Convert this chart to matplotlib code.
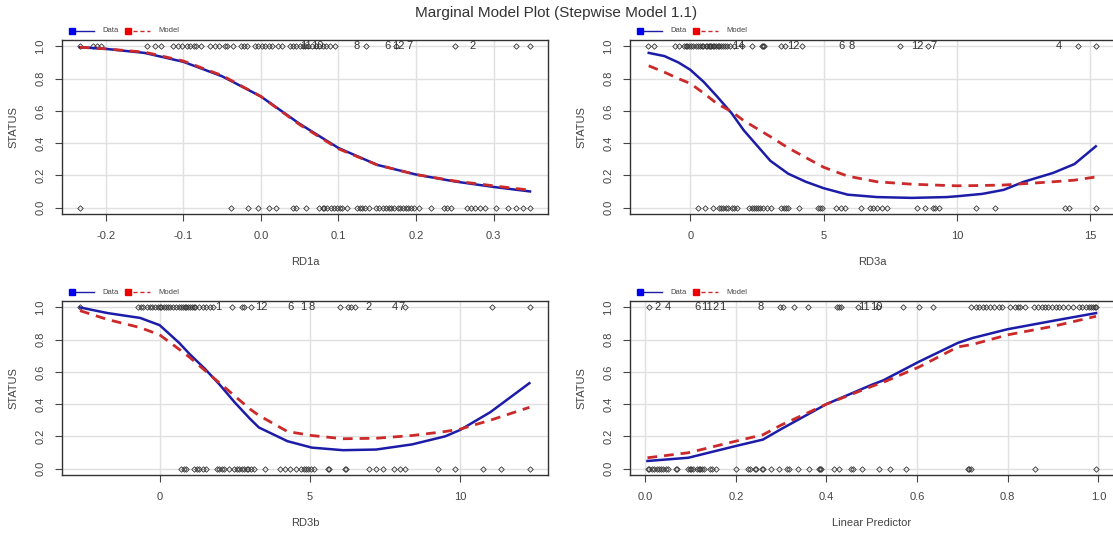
import numpy as np
import matplotlib.pyplot as plt
from matplotlib.lines import Line2D

plt.rcParams['font.family'] = ['Liberation Sans', 'DejaVu Sans']

# ---- data ----

# RD1a panel
rd1a_one = [-0.233, -0.216, -0.211, -0.206, -0.147, -0.136, -0.128, -0.113, -0.107, -0.101,
            -0.095, -0.091, -0.086, -0.084, -0.077, -0.065, -0.059, -0.054, -0.046, -0.044,
            -0.036, -0.026, -0.022, -0.018, -0.008, -0.004, 0.001, 0.006, 0.011, 0.015,
            0.022, 0.027, 0.038, 0.042, 0.045, 0.050, 0.054, 0.057, 0.061, 0.066,
            0.071, 0.075, 0.080, 0.084, 0.089, 0.096, 0.135, 0.174, 0.250, 0.329, 0.347]
rd1a_zero = [-0.233, -0.039, -0.017, -0.004, 0.010, 0.020, 0.041, 0.045, 0.058, 0.075,
             0.080, 0.082, 0.085, 0.091, 0.094, 0.098, 0.102, 0.105, 0.111, 0.124,
             0.128, 0.130, 0.134, 0.140, 0.149, 0.153, 0.158, 0.162, 0.165, 0.168,
             0.172, 0.177, 0.180, 0.183, 0.187, 0.190, 0.194, 0.197, 0.204, 0.220,
             0.236, 0.240, 0.245, 0.266, 0.271, 0.276, 0.283, 0.289, 0.303, 0.319,
             0.329, 0.338, 0.347]
rd1a_ids = [('11', 0.058), ('10', 0.073), ('8', 0.123), ('6', 0.163), ('12', 0.177),
            ('7', 0.192), ('2', 0.273)]
rd1a_x = [-0.233, -0.2, -0.15, -0.1, -0.05, 0.0, 0.05, 0.1, 0.15, 0.2, 0.25, 0.3, 0.347]
rd1a_data = [0.995, 0.985, 0.96, 0.905, 0.815, 0.69, 0.52, 0.37, 0.265, 0.205, 0.162, 0.128, 0.10]
rd1a_model = [0.995, 0.985, 0.965, 0.91, 0.82, 0.69, 0.515, 0.365, 0.265, 0.205, 0.165, 0.135, 0.108]

# RD3a panel
rd3a_one = [-1.59, -1.37, -0.57, -0.44, -0.24, -0.17, -0.11, -0.04, 0.03, 0.09,
            0.23, 0.29, 0.36, 0.42, 0.49, 0.60, 0.62, 0.69, 0.73, 0.78,
            0.84, 0.89, 0.95, 1.02, 1.09, 1.15, 1.22, 1.29, 1.39, 1.49,
            1.62, 1.95, 2.32, 2.68, 2.72, 2.75, 3.41, 3.54, 4.20, 7.85, 8.91, 14.52, 15.21]
rd3a_zero = [0.27, 0.56, 0.85, 1.09, 1.15, 1.22, 1.35, 1.42, 1.55, 1.64,
             1.75, 2.21, 2.31, 2.39, 2.48, 2.55, 2.61, 2.72, 2.88, 3.01,
             3.38, 3.51, 3.58, 3.67, 4.07, 4.80, 4.87, 4.93, 5.46, 5.66,
             5.80, 6.39, 6.75, 6.86, 6.99, 7.19, 7.39, 8.51, 8.78, 9.11,
             9.18, 9.31, 10.70, 11.43, 14.05, 14.18, 15.21]
rd3a_ids = [('14', 1.80), ('12', 3.85), ('6', 5.66), ('8', 6.06), ('12', 8.51),
            ('7', 9.11), ('4', 13.82)]
rd3a_x = [-1.56, -0.97, -0.44, 0.0, 0.5, 1.0, 1.55, 2.0, 2.5, 3.0, 3.67, 4.33, 5.0,
          5.9, 7.0, 8.3, 9.6, 10.0, 10.95, 11.75, 12.5, 13.6, 14.4, 15.2]
rd3a_data = [0.96, 0.94, 0.90, 0.855, 0.78, 0.69, 0.585, 0.48, 0.385, 0.29, 0.21, 0.16, 0.12,
             0.08, 0.065, 0.06, 0.065, 0.07, 0.085, 0.11, 0.16, 0.215, 0.27, 0.38]
rd3a_model = [0.88, 0.84, 0.80, 0.77, 0.71, 0.645, 0.595, 0.54, 0.49, 0.44, 0.37, 0.31, 0.25,
              0.195, 0.16, 0.145, 0.137, 0.135, 0.137, 0.14, 0.148, 0.16, 0.17, 0.19]

# RD3b panel
rd3b_one = [-2.65, -0.71, -0.63, -0.54, -0.42, -0.32, -0.24, -0.15, -0.06, 0.0,
            0.06, 0.13, 0.20, 0.27, 0.36, 0.44, 0.54, 0.63, 0.71, 0.77,
            0.83, 0.89, 0.95, 1.01, 1.07, 1.13, 1.19, 1.31, 1.43, 1.55,
            1.67, 1.79, 2.42, 2.74, 2.80, 3.04, 6.01, 6.25, 6.37, 6.49, 8.15, 11.07, 12.32]
rd3b_zero = [0.71, 0.80, 0.89, 1.13, 1.23, 1.31, 1.43, 1.55, 1.90, 1.99,
             2.06, 2.14, 2.32, 2.46, 2.56, 2.65, 2.74, 2.80, 2.89, 2.94,
             3.04, 3.13, 3.49, 3.99, 4.17, 4.35, 4.52, 4.70, 4.80, 4.88,
             4.94, 5.04, 5.12, 5.60, 5.63, 6.15, 6.19, 6.96, 7.20, 7.42,
             7.80, 7.98, 8.15, 9.25, 9.82, 10.77, 11.35, 12.32]
rd3b_ids = [('1', 1.95), ('12', 3.39), ('6', 4.35), ('1', 4.76), ('8', 5.06), ('2', 6.96),
            ('4', 7.82), ('7', 8.06)]
rd3b_x = [-2.65, -1.73, -0.65, 0.0, 0.65, 1.0, 1.5, 2.0, 2.5, 3.0, 3.3, 4.25, 5.06, 6.1,
          7.2, 8.4, 9.5, 10.0, 11.0, 12.3]
rd3b_data = [1.0, 0.965, 0.935, 0.89, 0.78, 0.71, 0.62, 0.52, 0.41, 0.31, 0.255, 0.17, 0.13,
             0.114, 0.118, 0.15, 0.20, 0.24, 0.35, 0.53]
rd3b_model = [0.98, 0.925, 0.875, 0.83, 0.74, 0.69, 0.61, 0.53, 0.45, 0.37, 0.33, 0.23, 0.205,
              0.185, 0.188, 0.205, 0.23, 0.245, 0.30, 0.38]

# Linear predictor panel
lp_one = [0.009, 0.298, 0.304, 0.328, 0.359, 0.424, 0.427, 0.431, 0.469, 0.514,
          0.569, 0.604, 0.635, 0.718, 0.729, 0.737, 0.745, 0.753, 0.761, 0.770,
          0.780, 0.788, 0.804, 0.816, 0.822, 0.827, 0.838, 0.859, 0.867, 0.875,
          0.882, 0.890, 0.898, 0.906, 0.914, 0.922, 0.933, 0.945, 0.957, 0.965,
          0.973, 0.980, 0.984, 0.988, 0.992, 0.995]
lp_zero = [0.006, 0.009, 0.014, 0.020, 0.025, 0.030, 0.035, 0.039, 0.045, 0.051,
           0.067, 0.071, 0.094, 0.098, 0.102, 0.106, 0.114, 0.118, 0.122, 0.125,
           0.129, 0.143, 0.147, 0.157, 0.200, 0.227, 0.231, 0.242, 0.245, 0.257,
           0.260, 0.278, 0.296, 0.314, 0.318, 0.337, 0.362, 0.383, 0.386, 0.388,
           0.417, 0.427, 0.455, 0.459, 0.478, 0.516, 0.540, 0.576, 0.712, 0.715,
           0.720, 0.861, 0.995]
lp_ids = [('2', 0.028), ('4', 0.050), ('6', 0.115), ('11', 0.137), ('2', 0.156), ('1', 0.169),
          ('8', 0.255), ('11', 0.483), ('10', 0.511)]
lp_x = [0.005, 0.095, 0.2, 0.26, 0.3, 0.4, 0.5, 0.525, 0.604, 0.69, 0.722, 0.8, 0.902, 0.995]
lp_data = [0.047, 0.067, 0.14, 0.18, 0.245, 0.40, 0.52, 0.547, 0.663, 0.78, 0.81, 0.865, 0.918, 0.965]
lp_model = [0.067, 0.098, 0.17, 0.21, 0.27, 0.40, 0.51, 0.535, 0.63, 0.755, 0.77, 0.83, 0.884, 0.945]

panels = [
    ('RD1a', rd1a_one, rd1a_zero, rd1a_ids, rd1a_x, rd1a_data, rd1a_model,
     [-0.2, -0.1, 0.0, 0.1, 0.2, 0.3], ['-0.2', '-0.1', '0.0', '0.1', '0.2', '0.3']),
    ('RD3a', rd3a_one, rd3a_zero, rd3a_ids, rd3a_x, rd3a_data, rd3a_model,
     [0, 5, 10, 15], ['0', '5', '10', '15']),
    ('RD3b', rd3b_one, rd3b_zero, rd3b_ids, rd3b_x, rd3b_data, rd3b_model,
     [0, 5, 10], ['0', '5', '10']),
    ('Linear Predictor', lp_one, lp_zero, lp_ids, lp_x, lp_data, lp_model,
     [0.0, 0.2, 0.4, 0.6, 0.8, 1.0], ['0.0', '0.2', '0.4', '0.6', '0.8', '1.0']),
]

W, H = 1113, 533
fig = plt.figure(figsize=(W / 100, H / 100), dpi=100)

# axes boxes in pixels: (left, top, right, bottom)
boxes = [(62, 40, 548, 214), (630, 40, 1114, 214),
         (62, 301, 548, 475), (630, 301, 1114, 475)]

blue = '#1c1ca8'
red = '#cc2a2a'
gray = '#444444'

for (name, one, zero, ids, cx, cdata, cmodel, ticks, tlabels), (l, t, r, b) in zip(panels, boxes):
    ax = fig.add_axes([l / W, 1 - b / H, (r - l) / W, (b - t) / H])
    allx = np.array(one + zero)
    lo, hi = allx.min(), allx.max()
    pad = (hi - lo) * 0.04
    ax.set_xlim(lo - pad, hi + pad)
    ax.set_ylim(-0.04, 1.04)

    ax.grid(True, color='#e0e0e0', lw=1)
    ax.set_axisbelow(True)

    ax.plot(one, np.ones(len(one)), 'D', ms=2.8, mfc='none', mec='#333333', mew=0.6)
    ax.plot(zero, np.zeros(len(zero)), 'D', ms=2.8, mfc='none', mec='#333333', mew=0.6)
    for lab, xv in ids:
        ax.text(xv, 1.0, lab, ha='center', va='center', fontsize=8, color='#333333')

    ax.plot(cx, cdata, color=blue, lw=1.8)
    ax.plot(cx, cmodel, color=red, lw=2, ls=(0, (3.5, 2.5)))

    ax.set_xticks(ticks)
    ax.set_xticklabels(tlabels)
    ax.set_yticks([0.0, 0.2, 0.4, 0.6, 0.8, 1.0])
    ax.set_yticklabels(['0.0', '0.2', '0.4', '0.6', '0.8', '1.0'], rotation=90, va='center')
    ax.tick_params(direction='out', length=5, color=gray, labelcolor=gray, labelsize=8,
                   pad=7, width=0.8)
    for s in ax.spines.values():
        s.set_color('#333333')
        s.set_linewidth(1)
    ax.set_xlabel(name, fontsize=8, color=gray, labelpad=12)
    ax.set_ylabel('STATUS', fontsize=8, color=gray, labelpad=12)

    # legend above the box, R style
    ly = 1 - (t - 9) / H
    x0 = (l + 8) / W
    fig.add_artist(Line2D([x0, x0 + 24 / W], [ly, ly], color=blue, lw=1))
    fig.add_artist(Line2D([x0 + 2 / W], [ly], marker='s', ms=5, color='#0000ee'))
    fig.text(x0 + 32 / W, ly, 'Data', fontsize=5.5, color=gray, va='center')
    x1 = x0 + 56 / W
    fig.add_artist(Line2D([x1, x1 + 24 / W], [ly, ly], color=red, lw=1, ls=(0, (3, 2))))
    fig.add_artist(Line2D([x1 + 2 / W], [ly], marker='s', ms=5, color='#ee0000'))
    fig.text(x1 + 32 / W, ly, 'Model', fontsize=5.5, color=gray, va='center')

fig.text(0.5, 1 - 13 / H, 'Marginal Model Plot (Stepwise Model 1.1)', ha='center', va='center',
         fontsize=11, color='#333333')

fig.savefig('out.png', dpi=100)
